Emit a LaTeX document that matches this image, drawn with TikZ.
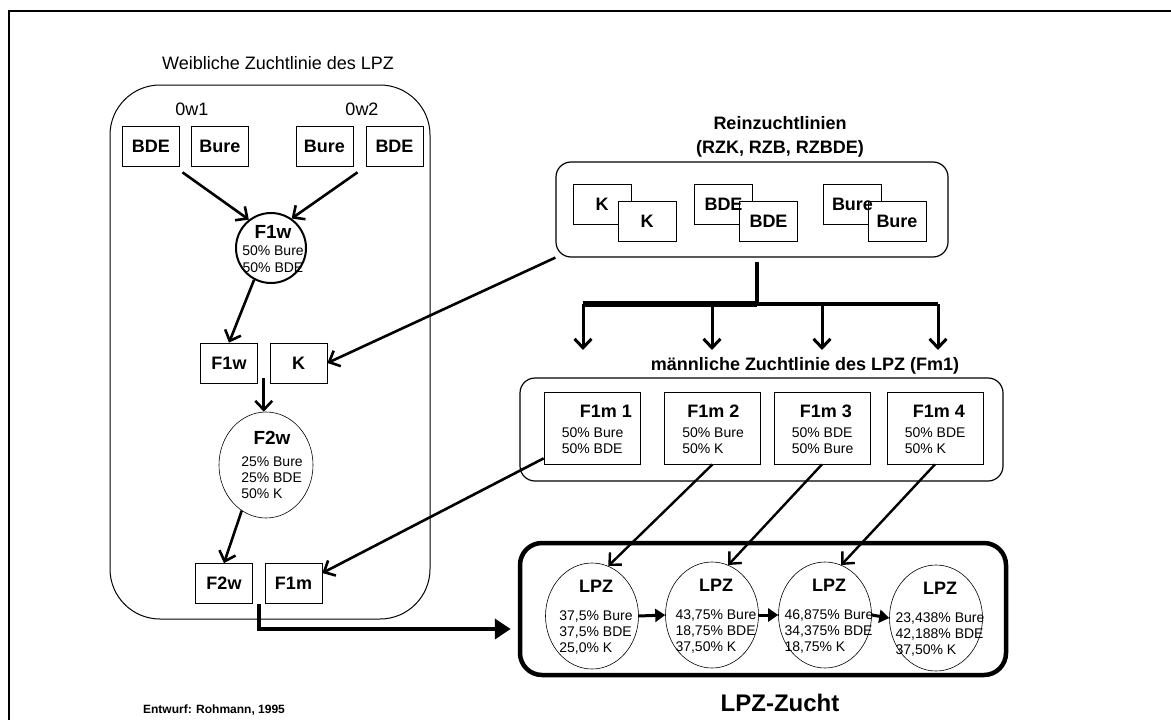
\documentclass[tikz,border=0pt]{standalone}
\usepackage{fontspec}
\setmainfont{Liberation Sans}
\usetikzlibrary{arrows.meta,calc,shapes.geometric}
\begin{document}
\begin{tikzpicture}[x=1pt,y=-1pt,
	every node/.style={font=\fontsize{14}{16}\selectfont},
	lbl/.style={font=\fontsize{18}{22}\selectfont},
	head/.style={font=\fontsize{18}{24}\selectfont\bfseries,align=center},
	box/.style={draw,line width=0.7pt,minimum width=57pt,minimum height=40pt,inner sep=0pt,font=\fontsize{18}{20}\selectfont\bfseries},
	fbox/.style={draw,line width=0.7pt,minimum width=96pt,minimum height=72pt,inner sep=0pt},
	oval/.style={draw,ellipse,line width=0.6pt,minimum width=93pt,minimum height=106pt,inner sep=0pt},
	group/.style={draw,line width=1.2pt,rounded corners=15pt},
	arr/.style={line width=2.6pt,-{Straight Barb[length=9pt,width=17pt]}},
	tri/.style={line width=3pt,-{Triangle[length=10pt,width=13pt]}}]
	\useasboundingbox (0,0) rectangle (1171,720);
	\draw[line width=1.5pt] (9,720)--(9,11)--(1171,11);
	\node[lbl] (wtitle) at (278,63) {Weibliche Zuchtlinie des LPZ};
	\node[draw,line width=1pt,rounded corners=50pt,minimum width=320pt,minimum height=534pt] (wline) at (270,352) {};
	\node[lbl] (ow1) at (192,109) {0w1};
	\node[lbl] (ow2) at (362,109) {0w2};
	\node[box] (obde1) at (151,146) {BDE};
	\node[box] (obure1) at (220,146) {Bure};
	\node[box] (obure2) at (324.5,146) {Bure};
	\node[box] (obde2) at (394.5,146) {BDE};
	\node[draw,circle,line width=2pt,minimum size=70pt,inner sep=0pt] (f1wc) at (271,248) {};
	\node[align=center,font=\fontsize{14}{17}\selectfont] (f1wt) at (273,249) {{\fontsize{19}{20}\selectfont\bfseries F1w}\\50\% Bure\\50\% BDE};
	\coordinate (g1) at ($(obde1.south east)!0.5!(obure1.south west)+(-3,6)$);
	\coordinate (g2) at ($(obure2.south east)!0.5!(obde2.south west)+(-2,6)$);
	\draw[arr] (g1)--(f1wc.128);
	\draw[arr] (g2)--(f1wc.55);
	\node[box] (f1wb) at (229,363) {F1w};
	\node[box] (kb) at (298.5,363) {K};
	\draw[arr] (f1wc.-118)--(f1wb.north);
	\coordinate (g3) at ($(f1wb.south east)!0.5!(kb.south west)+(0,-5)$);
	\node[oval,minimum width=94pt] (f2w) at (266,465) {};
	\node[align=center] (f2wt) at (272,467) {{\fontsize{19}{20}\selectfont\bfseries F2w}\\[10pt]\begin{tabular}{@{}l@{}}25\% Bure\\25\% BDE\\50\% K\end{tabular}};
	\draw[arr] (g3)--(g3 |- f2w.north);
	\node[box] (f2wb) at (224,583.5) {F2w};
	\node[box] (f1mb) at (293.5,583.5) {F1m};
	\draw[arr] (f2w.-118)--(f2wb.north);
	\node[head] (rztitle) at (780,137) {Reinzuchtlinien\\(RZK, RZB, RZBDE)};
	\node[group,minimum width=392pt,minimum height=95pt] (rz) at (752,209.5) {};
	\foreach \n/\xa/\xb/\t in {k/602/647/K,bde/723.5/768.5/BDE,bure/852.5/897/Bure}{
		\node[box,minimum width=58pt] (\n back) at (\xa,204) {};
		\node[box,minimum width=58pt,fill=white] (\n front) at (\xb,221) {\t};
		\node[box,draw=none] (\n label) at (\n back) {\t};
	}
	\draw[arr] (rz.south west)--(kb.east);
	\coordinate (bar) at (757,304);
	\foreach \i/\x in {1/583,2/712,3/822,4/938} \coordinate (d\i) at (\x,350);
	\draw[line width=4.5pt] ($(rz.south)+(5,4)$)--(bar);
	\draw[line width=5.5pt] (bar-|d1)--(bar);
	\draw[line width=4pt] (bar)--(bar-|d4);
	\foreach \i in {1,...,4} \draw[arr,line width=3pt] (bar-|d\i)--(d\i);
	\node[head] (mtitle) at (805,366) {männliche Zuchtlinie des LPZ (Fm1)};
	\node[group,minimum width=483pt,minimum height=103pt] (mbox) at (761.5,429.5) {};
	\foreach \i/\x/\s/\a/\b in {1/592/18/Bure/BDE,2/712.5/5/Bure/K,3/822/8/BDE/Bure,4/935/8/BDE/K}{
		\node[fbox] (fm\i) at (\x,428) {};
		\node[anchor=west,align=left,inner sep=0pt] (fm\i t) at ($(fm\i.west)+(18,1)$) {\hspace*{\s pt}{\fontsize{18}{20}\selectfont\bfseries F1m \i}\\[4pt]50\% \a\\50\% \b};
	}
	\draw[arr] ($(fm1.south west)+(0,-6)$)--(f1mb.20);
	\node[draw,line width=4.5pt,rounded corners=22pt,minimum width=486pt,minimum height=132pt] (lpzbox) at (763,609) {};
	\foreach \i/\x/\y/\a/\b/\c in {1/592/616/{37,5\% Bure}/{37,5\% BDE}/{25,0\% K},2/712/615/{43,75\% Bure}/{18,75\% BDE}/{37,50\% K},3/825/615/{46,875\% Bure}/{34,375\% BDE}/{18,75\% K},4/936/618/{23,438\% Bure}/{42,188\% BDE}/{37,50\% K}}{
		\node[oval] (lpz\i) at (\x,\y) {};
		\node[align=center] (lpz\i t) at ($(\x,\y)+(4,3)$) {{\fontsize{18}{20}\selectfont\bfseries LPZ}\\[16pt]\begin{tabular}{@{}l@{}}\a\\\b\\\c\end{tabular}};
	}
	\foreach \i/\j in {2/1,3/2,4/3} \draw[arr,line width=2.4pt] (fm\i.south)--(lpz\j.72);
	\foreach \i/\j in {1/2,2/3,3/4} \draw[tri] (lpz\i.east)--(lpz\j.west);
	\coordinate (g4) at ($(f2wb.south east)!0.5!(f1mb.south west)$);
	\draw[line width=4.5pt,-{Triangle[length=16pt,width=20pt]}] (g4)|-($(lpzbox.west)+(-7,20)$);
	\node[font=\fontsize{24}{26}\selectfont\bfseries] (zucht) at (780,703) {LPZ-Zucht};
	\node[font=\fontsize{12}{14}\selectfont\bfseries] (entwurf) at (214,710) {Entwurf: Rohmann, 1995};
\end{tikzpicture}
\end{document}
